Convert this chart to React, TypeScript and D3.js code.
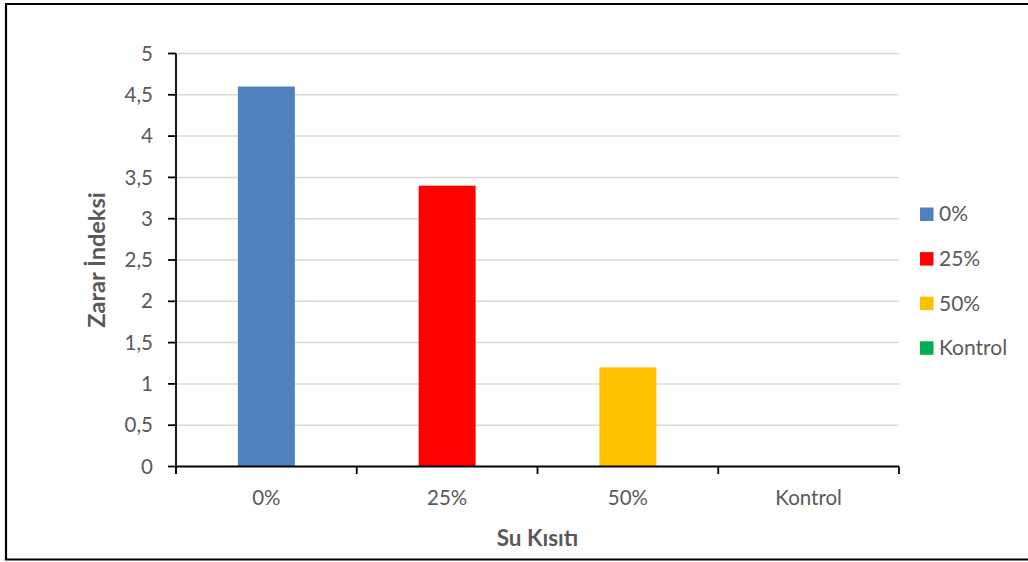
import React from "react";
import * as d3 from "d3";

// Su kısıtı kategorileri ve zarar indeksi değerleri
const categories: string[] = ["0%", "25%", "50%", "Kontrol"];
const values: number[] = [4.6, 3.4, 1.2, 0];
const colors: string[] = ["#4f81bd", "#ff0000", "#ffc000", "#00b050"];
const yTicks: number[] = [0, 0.5, 1, 1.5, 2, 2.5, 3, 3.5, 4, 4.5, 5];

const W = 1028;
const H = 562;
const FONT = "Lato, 'Open Sans', sans-serif";
const TEXT = "#595959";

export default function App() {
  const left = 176;
  const right = 899;
  const top = 53.5;
  const bottom = 466.5;

  const x = d3
    .scaleBand<string>()
    .domain(categories)
    .range([left, right])
    .paddingInner(0.685)
    .paddingOuter(0.685 / 2);
  const step = x.step();
  const y = d3.scaleLinear().domain([0, 5]).range([bottom, top]);
  const fmt = (v: number) => String(v).replace(".", ",");

  const boundaries = d3.range(categories.length + 1).map((i) => left + i * step);

  return (
    <div style={{ position: "absolute", left: 0, top: 0 }}>
      <svg width={W} height={H} style={{ display: "block" }}>
        <rect x={0} y={0} width={W} height={H} fill="#fff" />
        {/* chart frame */}
        <path d={`M${W + 2},4 H6 V559.5 H${W + 2}`} fill="none" stroke="#000" strokeWidth={2.2} />

        {/* gridlines */}
        {yTicks.slice(1).map((t) => (
          <line key={t} x1={left} x2={right} y1={y(t)} y2={y(t)} stroke="#d9d9d9" strokeWidth={1.5} />
        ))}

        {/* bars */}
        {categories.map((c, i) => (
          <rect
            key={c}
            x={x(c)}
            y={y(values[i])}
            width={x.bandwidth()}
            height={bottom - y(values[i])}
            fill={colors[i]}
          />
        ))}

        {/* y axis */}
        <line x1={left} x2={left} y1={top} y2={bottom + 7.5} stroke="#000" strokeWidth={1.8} />
        {yTicks.map((t) => (
          <g key={t}>
            <line x1={left - 8} x2={left} y1={y(t)} y2={y(t)} stroke="#000" strokeWidth={1.8} />
            <text
              x={153}
              y={y(t)}
              dy="0.35em"
              textAnchor="end"
              fontFamily={FONT}
              fontSize={20.5}
              fill={TEXT}
            >
              {fmt(t)}
            </text>
          </g>
        ))}

        {/* x axis */}
        <line x1={left} x2={right} y1={bottom} y2={bottom} stroke="#000" strokeWidth={1.8} />
        {boundaries.map((b, i) => (
          <line key={i} x1={b} x2={b} y1={bottom} y2={bottom + 7.5} stroke="#000" strokeWidth={1.8} />
        ))}
        {categories.map((c) => (
          <text
            key={c}
            x={(x(c) as number) + x.bandwidth() / 2}
            y={498}
            dy="0.35em"
            textAnchor="middle"
            fontFamily={FONT}
            fontSize={20.5}
            fill={TEXT}
          >
            {c}
          </text>
        ))}

        {/* axis titles */}
        <text
          x={(left + right) / 2}
          y={538}
          dy="0.35em"
          textAnchor="middle"
          fontFamily={FONT}
          fontSize={22.5}
          fontWeight="bold"
          fill={TEXT}
        >
          Su Kısıtı
        </text>
        <text
          transform={`translate(97,${(top + bottom) / 2}) rotate(-90)`}
          dy="0.35em"
          textAnchor="middle"
          fontFamily={FONT}
          fontSize={23.5}
          fontWeight="bold"
          fill={TEXT}
        >
          Zarar İndeksi
        </text>

        {/* legend */}
        {categories.map((c, i) => {
          const cy = 214 + i * 44.6;
          return (
            <g key={c}>
              <rect x={920} y={cy - 6.5} width={13.5} height={13.5} fill={colors[i]} />
              <text x={939} y={cy} dy="0.35em" fontFamily={FONT} fontSize={21} fill={TEXT}>
                {c}
              </text>
            </g>
          );
        })}
      </svg>
    </div>
  );
}
